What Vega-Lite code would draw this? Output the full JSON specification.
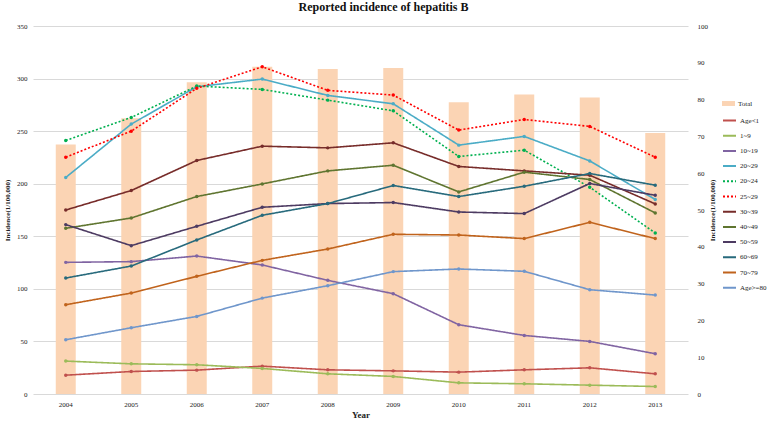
{
  "$schema": "https://vega.github.io/schema/vega-lite/v6.json",
  "width": 655,
  "height": 368,
  "autosize": {"type": "none"},
  "padding": {"left": 33, "top": 26, "right": 79, "bottom": 30},
  "background": "white",
  "title": {"text": "Reported incidence of hepatitis B", "anchor": "middle", "frame": "group", "dx": 23, "offset": 8, "fontSize": 12, "font": "Liberation Serif", "fontWeight": "bold", "color": "#111"},
  "config": {
    "font": "Liberation Serif",
    "view": {"stroke": null},
    "axis": {"labelFont": "Liberation Serif", "titleFont": "Liberation Serif", "labelFontSize": 7, "titleFontSize": 7, "labelColor": "#222", "titleColor": "#222", "ticks": false, "domain": false},
    "legend": {"labelFont": "Liberation Serif", "labelFontSize": 7, "labelColor": "#222"}
  },
  "datasets": {
    "total": [
      {"year": "2004", "kind": "Total", "value": 67.8},
      {"year": "2005", "kind": "Total", "value": 74.9},
      {"year": "2006", "kind": "Total", "value": 84.7},
      {"year": "2007", "kind": "Total", "value": 88.9},
      {"year": "2008", "kind": "Total", "value": 88.3},
      {"year": "2009", "kind": "Total", "value": 88.6},
      {"year": "2010", "kind": "Total", "value": 79.3},
      {"year": "2011", "kind": "Total", "value": 81.4},
      {"year": "2012", "kind": "Total", "value": 80.6},
      {"year": "2013", "kind": "Total", "value": 70.9}
    ],
    "lines": [
      {"series": "Age<1", "year": "2004", "value": 17.9}, {"series": "Age<1", "year": "2005", "value": 21.4}, {"series": "Age<1", "year": "2006", "value": 22.7}, {"series": "Age<1", "year": "2007", "value": 26.5}, {"series": "Age<1", "year": "2008", "value": 23.0}, {"series": "Age<1", "year": "2009", "value": 22.0}, {"series": "Age<1", "year": "2010", "value": 20.8}, {"series": "Age<1", "year": "2011", "value": 23.0}, {"series": "Age<1", "year": "2012", "value": 24.9}, {"series": "Age<1", "year": "2013", "value": 19.2},
      {"series": "1~9", "year": "2004", "value": 31.3}, {"series": "1~9", "year": "2005", "value": 28.7}, {"series": "1~9", "year": "2006", "value": 27.8}, {"series": "1~9", "year": "2007", "value": 24.3}, {"series": "1~9", "year": "2008", "value": 19.2}, {"series": "1~9", "year": "2009", "value": 16.7}, {"series": "1~9", "year": "2010", "value": 10.6}, {"series": "1~9", "year": "2011", "value": 9.7}, {"series": "1~9", "year": "2012", "value": 8.4}, {"series": "1~9", "year": "2013", "value": 7.1},
      {"series": "10~19", "year": "2004", "value": 125.2}, {"series": "10~19", "year": "2005", "value": 125.9}, {"series": "10~19", "year": "2006", "value": 131.2}, {"series": "10~19", "year": "2007", "value": 122.7}, {"series": "10~19", "year": "2008", "value": 108.1}, {"series": "10~19", "year": "2009", "value": 95.4}, {"series": "10~19", "year": "2010", "value": 65.9}, {"series": "10~19", "year": "2011", "value": 55.7}, {"series": "10~19", "year": "2012", "value": 50.0}, {"series": "10~19", "year": "2013", "value": 38.3},
      {"series": "20~29", "year": "2004", "value": 205.9}, {"series": "20~29", "year": "2005", "value": 256.7}, {"series": "20~29", "year": "2006", "value": 292.2}, {"series": "20~29", "year": "2007", "value": 299.5}, {"series": "20~29", "year": "2008", "value": 284.0}, {"series": "20~29", "year": "2009", "value": 276.0}, {"series": "20~29", "year": "2010", "value": 236.7}, {"series": "20~29", "year": "2011", "value": 245.0}, {"series": "20~29", "year": "2012", "value": 221.7}, {"series": "20~29", "year": "2013", "value": 185.0},
      {"series": "20~24", "year": "2004", "value": 241.1}, {"series": "20~24", "year": "2005", "value": 263.0}, {"series": "20~24", "year": "2006", "value": 292.9}, {"series": "20~24", "year": "2007", "value": 289.7}, {"series": "20~24", "year": "2008", "value": 279.5}, {"series": "20~24", "year": "2009", "value": 269.3}, {"series": "20~24", "year": "2010", "value": 225.9}, {"series": "20~24", "year": "2011", "value": 231.9}, {"series": "20~24", "year": "2012", "value": 196.7}, {"series": "20~24", "year": "2013", "value": 153.1},
      {"series": "25~29", "year": "2004", "value": 225.2}, {"series": "25~29", "year": "2005", "value": 250.0}, {"series": "25~29", "year": "2006", "value": 290.7}, {"series": "25~29", "year": "2007", "value": 311.2}, {"series": "25~29", "year": "2008", "value": 288.8}, {"series": "25~29", "year": "2009", "value": 284.3}, {"series": "25~29", "year": "2010", "value": 251.0}, {"series": "25~29", "year": "2011", "value": 261.1}, {"series": "25~29", "year": "2012", "value": 254.5}, {"series": "25~29", "year": "2013", "value": 225.2},
      {"series": "30~39", "year": "2004", "value": 175.0}, {"series": "30~39", "year": "2005", "value": 193.5}, {"series": "30~39", "year": "2006", "value": 222.1}, {"series": "30~39", "year": "2007", "value": 235.7}, {"series": "30~39", "year": "2008", "value": 234.1}, {"series": "30~39", "year": "2009", "value": 238.9}, {"series": "30~39", "year": "2010", "value": 216.4}, {"series": "30~39", "year": "2011", "value": 212.2}, {"series": "30~39", "year": "2012", "value": 208.1}, {"series": "30~39", "year": "2013", "value": 180.8},
      {"series": "40~49", "year": "2004", "value": 157.6}, {"series": "40~49", "year": "2005", "value": 167.4}, {"series": "40~49", "year": "2006", "value": 187.8}, {"series": "40~49", "year": "2007", "value": 199.8}, {"series": "40~49", "year": "2008", "value": 212.2}, {"series": "40~49", "year": "2009", "value": 217.6}, {"series": "40~49", "year": "2010", "value": 192.2}, {"series": "40~49", "year": "2011", "value": 211.0}, {"series": "40~49", "year": "2012", "value": 204.0}, {"series": "40~49", "year": "2013", "value": 172.2},
      {"series": "50~59", "year": "2004", "value": 161.1}, {"series": "50~59", "year": "2005", "value": 141.1}, {"series": "50~59", "year": "2006", "value": 159.5}, {"series": "50~59", "year": "2007", "value": 177.6}, {"series": "50~59", "year": "2008", "value": 181.1}, {"series": "50~59", "year": "2009", "value": 182.1}, {"series": "50~59", "year": "2010", "value": 173.1}, {"series": "50~59", "year": "2011", "value": 171.6}, {"series": "50~59", "year": "2012", "value": 200.2}, {"series": "50~59", "year": "2013", "value": 189.0},
      {"series": "60~69", "year": "2004", "value": 110.3}, {"series": "60~69", "year": "2005", "value": 121.7}, {"series": "60~69", "year": "2006", "value": 146.5}, {"series": "60~69", "year": "2007", "value": 170.0}, {"series": "60~69", "year": "2008", "value": 181.1}, {"series": "60~69", "year": "2009", "value": 198.3}, {"series": "60~69", "year": "2010", "value": 187.8}, {"series": "60~69", "year": "2011", "value": 197.6}, {"series": "60~69", "year": "2012", "value": 209.7}, {"series": "60~69", "year": "2013", "value": 198.6},
      {"series": "70~79", "year": "2004", "value": 84.9}, {"series": "70~79", "year": "2005", "value": 96.0}, {"series": "70~79", "year": "2006", "value": 111.9}, {"series": "70~79", "year": "2007", "value": 127.1}, {"series": "70~79", "year": "2008", "value": 137.9}, {"series": "70~79", "year": "2009", "value": 151.9}, {"series": "70~79", "year": "2010", "value": 151.2}, {"series": "70~79", "year": "2011", "value": 147.8}, {"series": "70~79", "year": "2012", "value": 163.3}, {"series": "70~79", "year": "2013", "value": 147.8},
      {"series": "Age>=80", "year": "2004", "value": 51.6}, {"series": "Age>=80", "year": "2005", "value": 63.0}, {"series": "Age>=80", "year": "2006", "value": 73.8}, {"series": "Age>=80", "year": "2007", "value": 91.2}, {"series": "Age>=80", "year": "2008", "value": 103.0}, {"series": "Age>=80", "year": "2009", "value": 116.4}, {"series": "Age>=80", "year": "2010", "value": 118.9}, {"series": "Age>=80", "year": "2011", "value": 116.7}, {"series": "Age>=80", "year": "2012", "value": 99.2}, {"series": "Age>=80", "year": "2013", "value": 94.1}
    ]
  },
  "encoding": {
    "x": {"field": "year", "type": "ordinal", "title": "Year",
      "scale": {"paddingInner": 0.695, "paddingOuter": 0.3475},
      "axis": {"labelAngle": 0, "labelPadding": 6, "titleFontSize": 9, "titleFontWeight": "bold", "titlePadding": 3, "grid": false}}
  },
  "layer": [
    {
      "data": {"name": "total"},
      "mark": {"type": "bar"},
      "encoding": {
        "y": {"field": "value", "type": "quantitative", "scale": {"domain": [0, 100], "nice": false},
          "axis": {"orient": "right", "title": "Incidence(1/100,000)", "titleFontWeight": "bold", "titleAngle": 270, "values": [0,10,20,30,40,50,60,70,80,90,100], "grid": false, "labelPadding": 9, "titlePadding": 8}},
        "fill": {"field": "kind", "type": "nominal", "scale": {"domain": ["Total"], "range": ["#FBD4B4"]},
          "legend": {"title": null, "orient": "none", "legendX": 689, "legendY": 71, "padding": 0, "symbolType": "M-1,-0.38H1V0.38H-1Z", "symbolSize": 169, "symbolStrokeWidth": 0, "symbolOpacity": 1, "labelOffset": 3}}
      }
    },
    {
      "data": {"name": "lines"},
      "mark": {"type": "line", "strokeWidth": 1.6, "point": {"filled": true, "size": 12}},
      "encoding": {
        "y": {"field": "value", "type": "quantitative", "scale": {"domain": [0, 350], "nice": false},
          "axis": {"orient": "left", "title": "Incidence(1/100,000)", "titleFontWeight": "bold", "values": [0,50,100,150,200,250,300,350], "grid": true, "gridColor": "#D9D9D9", "labelPadding": 6, "titlePadding": 6}},
        "color": {"field": "series", "type": "nominal",
          "scale": {"domain": ["Age<1","1~9","10~19","20~29","20~24","25~29","30~39","40~49","50~59","60~69","70~79","Age>=80"],
            "range": ["#C0504D","#9BBB59","#8064A2","#4BACC6","#00B050","#FF0000","#772C2A","#5F7530","#4D3B62","#276A7C","#C0631C","#6F96CB"]},
          "legend": {"title": null, "orient": "none", "legendX": 689, "legendY": 87, "padding": 0, "symbolType": "stroke", "symbolSize": 169, "symbolStrokeWidth": 2, "rowPadding": 3.2, "labelOffset": 3}},
        "strokeDash": {"field": "series", "type": "nominal",
          "scale": {"domain": ["Age<1","1~9","10~19","20~29","20~24","25~29","30~39","40~49","50~59","60~69","70~79","Age>=80"],
            "range": [[1,0],[1,0],[1,0],[1,0],[2,2],[2,2],[1,0],[1,0],[1,0],[1,0],[1,0],[1,0]]},
          "legend": {"title": null, "orient": "none", "legendX": 689, "legendY": 87, "padding": 0, "symbolType": "stroke", "symbolSize": 169, "symbolStrokeWidth": 2, "rowPadding": 3.2, "labelOffset": 3}}
      }
    }
  ],
  "resolve": {"scale": {"y": "independent"}}
}
